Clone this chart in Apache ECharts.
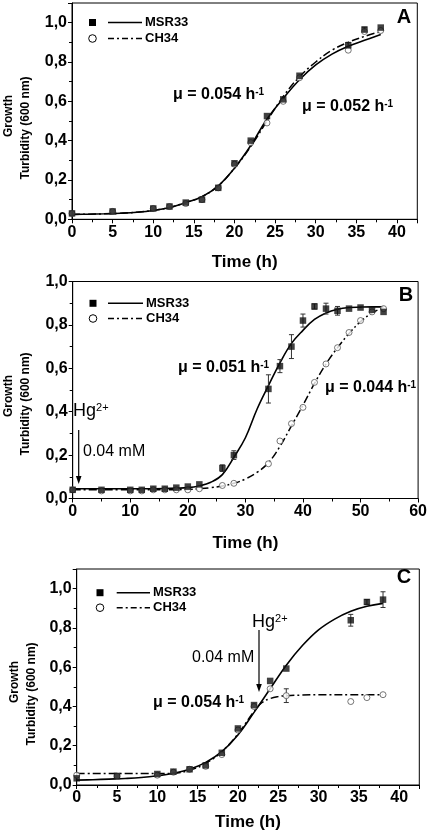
<!DOCTYPE html>
<html>
<head>
<meta charset="utf-8">
<script src="https://cdn.jsdelivr.net/npm/echarts@6/dist/echarts.min.js"></script>
<style>html,body{margin:0;padding:0;background:#fff}#c{width:430px;height:839px}</style>
</head>
<body>
<div id="c"></div>
<script>
// ---------- Panel A ----------
const timeA = [0,5,10,12,14,16,18,20,22,24,26,28,34,36,38];
const msrA  = [0.03,0.04,0.055,0.065,0.085,0.10,0.16,0.285,0.40,0.525,0.61,0.73,0.885,0.965,0.975];
const chA   = [0.03,0.04,0.055,0.065,0.08,0.10,0.16,0.28,0.39,0.49,0.60,0.72,0.86,0.955,0.96];
const fitTimeA = [0,2,4,6,8,10,12,14,16,18,20,22,24,26,28,30,32,34,36,38];
const fitMsrA  = [0.025,0.026,0.028,0.031,0.036,0.045,0.06,0.085,0.115,0.17,0.26,0.375,0.51,0.615,0.71,0.785,0.84,0.88,0.91,0.94];
const fitChA   = [0.025,0.026,0.028,0.031,0.036,0.045,0.06,0.085,0.115,0.17,0.26,0.37,0.50,0.625,0.725,0.80,0.86,0.90,0.93,0.955];
const errTimeA = [34,36];
const errMsrA  = [0.015,0.012];

// ---------- Panel B ----------
const timeB = [0,5,10,12,14,16,18,20,22,26,28,34,36,38,40,42,44,46,48,50,52,54];
const msrB  = [0.04,0.04,0.04,0.04,0.045,0.045,0.05,0.055,0.065,0.14,0.20,0.505,0.61,0.70,0.82,0.885,0.875,0.865,0.875,0.88,0.87,0.86];
const chB   = [0.04,0.035,0.035,0.035,0.04,0.04,0.04,0.04,0.045,0.06,0.07,0.16,0.265,0.345,0.42,0.535,0.62,0.695,0.765,0.82,0.86,0.875];
const fitTimeB = [0,4,8,12,16,20,22,24,26,28,30,32,34,36,38,40,42,44,46,48,50,52,54];
const fitMsrB  = [0.045,0.045,0.045,0.045,0.046,0.05,0.058,0.075,0.11,0.19,0.28,0.41,0.52,0.625,0.715,0.775,0.825,0.855,0.872,0.88,0.882,0.883,0.883];
const fitChB   = [0.04,0.04,0.04,0.04,0.04,0.042,0.045,0.05,0.058,0.07,0.09,0.12,0.165,0.24,0.335,0.43,0.53,0.62,0.695,0.76,0.815,0.855,0.88];
const errTimeB = [26,28,34,36,38,40,42,44,46];
const errMsrB  = [0.015,0.02,0.065,0.03,0.055,0.03,0.012,0.025,0.02];

// ---------- Panel C ----------
const timeC = [0,5,10,12,14,16,18,20,22,24,26,34,36,38];
const msrC  = [0.034,0.046,0.056,0.068,0.08,0.10,0.164,0.288,0.407,0.53,0.593,0.839,0.932,0.944];
const chC   = [0.05,0.045,0.05,0.065,0.08,0.095,0.155,0.28,0.40,0.49,0.455,0.425,0.445,0.46];
const fitTimeC = [0,2,4,6,8,10,12,14,16,18,20,22,24,26,28,30,32,34,36,38];
const fitMsrC  = [0.025,0.027,0.03,0.033,0.038,0.047,0.06,0.08,0.115,0.17,0.255,0.37,0.49,0.61,0.71,0.79,0.845,0.885,0.91,0.925];
const fitTimeC2 = [0,2,4,6,8,10,12,14,16,18,20,22,23,24,25,26,28,30,34,38];
const fitChC   = [0.058,0.058,0.058,0.058,0.058,0.058,0.06,0.075,0.11,0.17,0.26,0.375,0.42,0.44,0.45,0.455,0.458,0.46,0.46,0.46];
const errTimeC = [34,36,38];
const errMsrC  = [0.03,0.012,0.04];
const errTimeC2 = [26];
const errChC    = [0.035];

const FONT = "'Liberation Sans', Arial, sans-serif";
const DASHDOT = [8,3,2,3];

function zip(a,b){return a.map((v,i)=>[v,b[i]]);}
function errData(et, ee, t, v){
  return et.map((tt,i)=>{const val=v[t.indexOf(tt)];return [tt, val-ee[i], val+ee[i]];});
}
function errItem(params, api){
  const x=api.value(0), lo=api.value(1), hi=api.value(2);
  const p1=api.coord([x,lo]), p2=api.coord([x,hi]);
  const w=2.5, st={stroke:'#333',lineWidth:1};
  return {type:'group',children:[
    {type:'line',shape:{x1:p1[0],y1:p1[1],x2:p2[0],y2:p2[1]},style:st},
    {type:'line',shape:{x1:p1[0]-w,y1:p1[1],x2:p1[0]+w,y2:p1[1]},style:st},
    {type:'line',shape:{x1:p2[0]-w,y1:p2[1],x2:p2[0]+w,y2:p2[1]},style:st}
  ]};
}
function yFmt(v){
  if (Math.abs(v*5-Math.round(v*5))>1e-6) return '';
  return v.toFixed(1).replace('.',',');
}
function xFmt(step){return v=> (Math.abs(v/step-Math.round(v/step))>1e-6)?'':String(v);}

const grids = [
  {left:72, right:12.7, top:3, height:216.3},
  {left:72.7, right:11, top:281.5, height:217},
  {left:76.7, right:10.7, top:569, height:216}
];
const xMax=[42.5,60,42.5], xInt=[5,10,5], yMax=[1.1,1.0,1.1], nameGap=[35,36,29];

const xAxes = grids.map((g,i)=>({
  gridIndex:i, type:'value', min:0, max:xMax[i], interval:xInt[i],
  name:'Time (h)', nameLocation:'middle', nameGap:nameGap[i],
  nameTextStyle:{fontFamily:FONT,fontWeight:'bold',fontSize:17,color:'#000'},
  axisLine:{show:true,lineStyle:{color:'#000',width:1}},
  axisTick:{show:true,length:4,lineStyle:{color:'#000'}},
  minorTick:{show:true,splitNumber:2,length:3,lineStyle:{color:'#000'}},
  splitLine:{show:false},
  axisLabel:{fontFamily:FONT,fontWeight:'bold',fontSize:16,color:'#000',margin:5,formatter:xFmt(xInt[i])}
}));
const yAxes = grids.map((g,i)=>({
  gridIndex:i, type:'value', min:0, max:yMax[i], interval:0.2,
  axisLine:{show:true,lineStyle:{color:'#000',width:1}},
  axisTick:{show:true,length:4,lineStyle:{color:'#000'}},
  minorTick:{show:true,splitNumber:2,length:3,lineStyle:{color:'#000'}},
  splitLine:{show:false},
  axisLabel:{fontFamily:FONT,fontWeight:'bold',fontSize:16,color:'#000',margin:5,formatter:yFmt}
}));

function panelSeries(i, fitT1, fitM, fitT2, fitC, t, m, c, errs){
  const s = [
    {type:'line',xAxisIndex:i,yAxisIndex:i,data:zip(fitT1,fitM),smooth:0.4,showSymbol:false,
     lineStyle:{color:'#000',width:1.6},z:3},
    {type:'line',xAxisIndex:i,yAxisIndex:i,data:zip(fitT2,fitC),smooth:0.4,showSymbol:false,
     lineStyle:{color:'#000',width:1.5,type:DASHDOT},z:3}
  ];
  errs.forEach(d=>s.push({type:'custom',xAxisIndex:i,yAxisIndex:i,data:d,renderItem:errItem,z:4}));
  s.push({type:'scatter',xAxisIndex:i,yAxisIndex:i,data:zip(t,c),symbol:'circle',symbolSize:6,
    itemStyle:{color:'#fff',borderColor:'#555',borderWidth:1},z:5});
  s.push({type:'scatter',xAxisIndex:i,yAxisIndex:i,data:zip(t,m),symbol:'rect',symbolSize:6.5,
    itemStyle:{color:'#111'},z:6});
  return s;
}

const series = [].concat(
  panelSeries(0, fitTimeA, fitMsrA, fitTimeA, fitChA, timeA, msrA, chA, [errData(errTimeA,errMsrA,timeA,msrA)]),
  panelSeries(1, fitTimeB, fitMsrB, fitTimeB, fitChB, timeB, msrB, chB, [errData(errTimeB,errMsrB,timeB,msrB)]),
  panelSeries(2, fitTimeC, fitMsrC, fitTimeC2, fitChC, timeC, msrC, chC,
    [errData(errTimeC,errMsrC,timeC,msrC), errData(errTimeC2,errChC,timeC,chC)])
);

// ---------- graphics: legends, titles, annotations ----------
const G = [];
function txt(x,y,text,opt){
  G.push(Object.assign({type:'text',x:x,y:y,z:100,style:Object.assign({text:text,fill:'#000',fontFamily:FONT,
    fontSize:16,align:'left',verticalAlign:'middle'},opt||{})}));
}
function rich(x,y,main,sup,bold,size){
  G.push({type:'text',x:x,y:y,z:100,style:{text:'{m|'+main+'}{s|'+sup+'}',align:'left',verticalAlign:'middle',
    rich:{m:{fontFamily:FONT,fontSize:size,fontWeight:bold?'bold':'normal',color:'#000'},
          s:{fontFamily:FONT,fontSize:Math.round(size*0.62),fontWeight:bold?'bold':'normal',color:'#000',verticalAlign:'top'}}}});
}
function legend(x0,y1,y2,lx1,lx2,tx){
  G.push({type:'rect',z:100,shape:{x:x0-3.5,y:y1-3.5,width:7,height:7},style:{fill:'#000'}});
  G.push({type:'line',z:100,shape:{x1:lx1,y1:y1,x2:lx2,y2:y1},style:{stroke:'#000',lineWidth:1.5}});
  txt(tx,y1,'MSR33',{fontSize:13,fontWeight:'bold'});
  G.push({type:'circle',z:100,shape:{cx:x0,cy:y2,r:3.8},style:{fill:'#fff',stroke:'#000',lineWidth:1}});
  G.push({type:'line',z:100,shape:{x1:lx1,y1:y2,x2:lx2,y2:y2},style:{stroke:'#000',lineWidth:1.5,lineDash:[6,3,2,3]}});
  txt(tx,y2,'CH34',{fontSize:13,fontWeight:'bold'});
}
function ytitle(x1,y1,x2,y2){
  G.push({type:'text',x:x1,y:y1,rotation:Math.PI/2,z:100,style:{text:'Growth',fill:'#000',fontFamily:FONT,fontSize:12,fontWeight:'bold',align:'center',verticalAlign:'middle'}});
  G.push({type:'text',x:x2,y:y2,rotation:Math.PI/2,z:100,style:{text:'Turbidity (600 nm)',fill:'#000',fontFamily:FONT,fontSize:12,fontWeight:'bold',align:'center',verticalAlign:'middle'}});
}
function arrow(x,y1,y2){
  G.push({type:'line',z:100,shape:{x1:x,y1:y1,x2:x,y2:y2-6},style:{stroke:'#000',lineWidth:1.2}});
  G.push({type:'polygon',z:100,shape:{points:[[x-2.8,y2-8],[x+2.8,y2-8],[x,y2]]},style:{fill:'#000'}});
}

// Panel A
legend(92.5,22.5,38.5,108,142,145);
txt(404,17,'A',{fontSize:20,fontWeight:'bold',align:'center'});
rich(173,95,'μ = 0.054 h','-1',true,16);
rich(302,107,'μ = 0.052 h','-1',true,16);
ytitle(9,116,26,128);
// Panel B
legend(93,303.3,318.5,108,143,146);
txt(406,295,'B',{fontSize:20,fontWeight:'bold',align:'center'});
rich(178,368,'μ = 0.051 h','-1',true,16);
rich(325,388,'μ = 0.044 h','-1',true,16);
rich(73,411,'Hg','2+',false,18);
txt(83,452,'0.04 mM',{fontSize:16});
arrow(78.7,430,484);
ytitle(9,396,26,404);
// Panel C
legend(100,592.7,607.7,116.7,150,153);
txt(404,577,'C',{fontSize:20,fontWeight:'bold',align:'center'});
rich(153,703,'μ = 0.054 h','-1',true,16);
rich(252,622,'Hg','2+',false,18);
txt(192,658,'0.04 mM',{fontSize:16});
arrow(259,630,692);
ytitle(15,682,32,694);

const chart = echarts.init(document.getElementById('c'),null,{renderer:'canvas'});
chart.setOption({
  animation:false,
  backgroundColor:'#fff',
  grid: grids.map(g=>Object.assign({show:true,borderColor:'#000',borderWidth:1,backgroundColor:'transparent'},g)),
  xAxis:xAxes, yAxis:yAxes, series:series, graphic:G
});
</script>
</body>
</html>
